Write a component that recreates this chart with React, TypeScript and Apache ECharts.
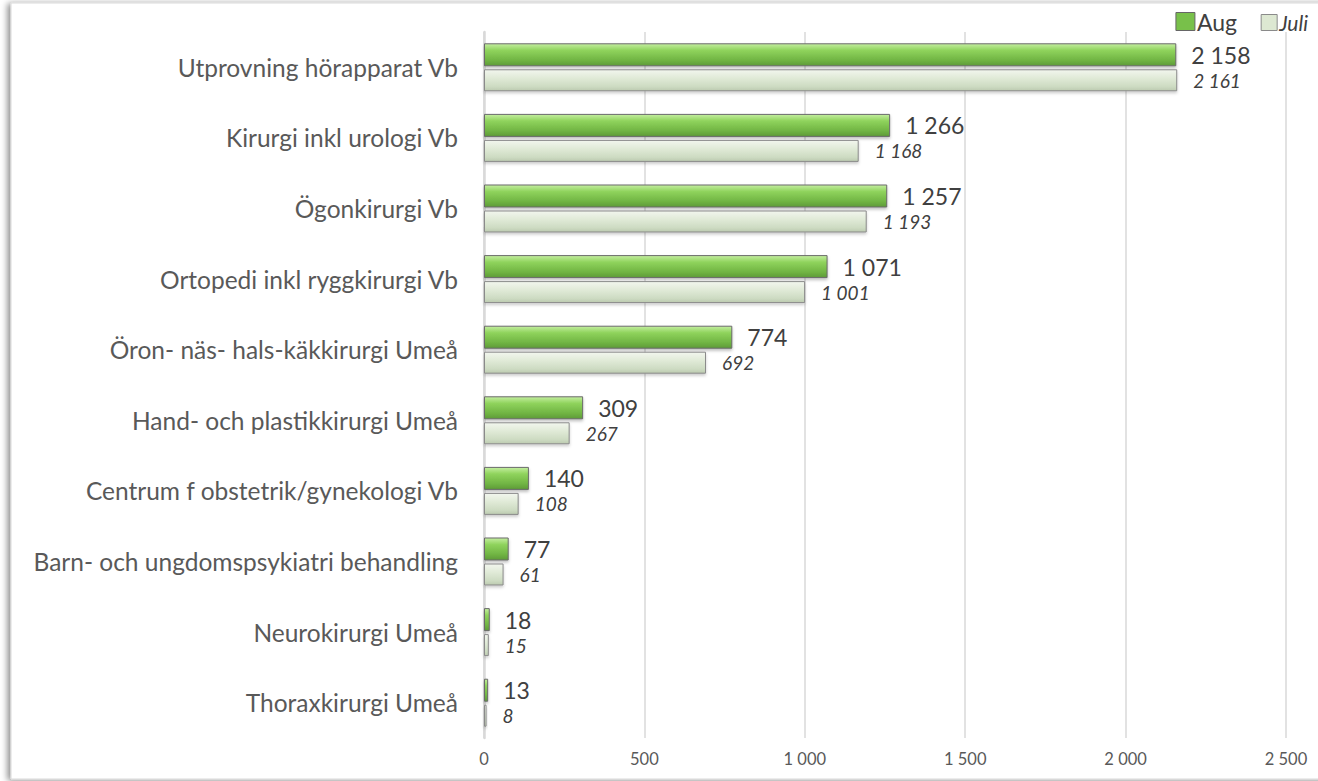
import React, { useEffect, useRef } from "react";
import * as echarts from "echarts";

const categories = [
  "Utprovning hörapparat Vb",
  "Kirurgi inkl urologi Vb",
  "Ögonkirurgi Vb",
  "Ortopedi inkl ryggkirurgi Vb",
  "Öron- näs- hals-käkkirurgi Umeå",
  "Hand- och plastikkirurgi Umeå",
  "Centrum f obstetrik/gynekologi Vb",
  "Barn- och ungdomspsykiatri behandling",
  "Neurokirurgi Umeå",
  "Thoraxkirurgi Umeå",
];
const augValues = [2158, 1266, 1257, 1071, 774, 309, 140, 77, 18, 13];
const juliValues = [2161, 1168, 1193, 1001, 692, 267, 108, 61, 15, 8];
const seriesNames = ["Aug", "Juli"];

const FONT = "Lato, 'Liberation Sans', sans-serif";
const fmt = (v: number) => String(v).replace(/\B(?=(\d{3})+(?!\d))/g, " ");

export default function App() {
  const ref = useRef<HTMLDivElement>(null);
  useEffect(() => {
    const chart = echarts.init(ref.current!, null, { renderer: "svg" });
    const augFill = new echarts.graphic.LinearGradient(0, 0, 0, 1, [
      { offset: 0, color: "#c4eea0" },
      { offset: 0.3, color: "#8fd35c" },
      { offset: 0.75, color: "#70b443" },
      { offset: 1, color: "#5e9a38" },
    ]);
    const juliFill = new echarts.graphic.LinearGradient(0, 0, 0, 1, [
      { offset: 0, color: "#f2f6ee" },
      { offset: 0.4, color: "#e0ead7" },
      { offset: 0.8, color: "#cddbc2" },
      { offset: 1, color: "#bccab0" },
    ]);
    chart.setOption({
      animation: false,
      backgroundColor: "#ffffff",
      graphic: [
        {
          type: "rect",
          shape: { x: 11, y: 3, width: 1320, height: 776 },
          style: {
            fill: "#ffffff",
            stroke: "#d9d9d9",
            lineWidth: 1,
            shadowBlur: 6,
            shadowOffsetX: -3,
            shadowOffsetY: 1,
            shadowColor: "rgba(0,0,0,0.45)",
          },
          z: -10,
          silent: true,
        },
      ],
      legend: [
        {
          right: 76,
          top: 5,
          itemWidth: 19,
          itemHeight: 18,
          icon: "rect",
          data: [
            {
              name: seriesNames[0],
              itemStyle: { color: "#78c04a", borderColor: "#666666", borderWidth: 1 },
              textStyle: { fontSize: 23, color: "#404040", fontFamily: FONT, padding: [0, 0, 0, -3] },
            },
          ],
        },
        {
          right: 5,
          top: 7,
          itemWidth: 16,
          itemHeight: 16,
          icon: "rect",
          data: [
            {
              name: seriesNames[1],
              itemStyle: { color: "#dde8d2", borderColor: "#8a8a8a", borderWidth: 1 },
              textStyle: { fontSize: 21, color: "#404040", fontStyle: "italic", fontFamily: FONT, padding: [0, 0, 0, -3] },
            },
          ],
        },
      ],
      grid: { left: 484, right: 32, top: 32, bottom: 43, containLabel: false },
      xAxis: {
        type: "value",
        min: 0,
        max: 2500,
        interval: 500,
        axisLine: { show: false },
        axisTick: { show: false },
        splitLine: { lineStyle: { color: "#d9d9d9", width: 1.5 } },
        axisLabel: {
          color: "#595959",
          fontSize: 16.5,
          fontFamily: FONT,
          margin: 12,
          formatter: (v: number) => fmt(v),
        },
      },
      yAxis: {
        type: "category",
        inverse: true,
        data: categories,
        axisLine: { show: true, lineStyle: { color: "#d9d9d9", width: 2.5 } },
        axisTick: { show: false },
        axisLabel: { color: "#595959", fontSize: 24.5, fontFamily: FONT, margin: 26 },
      },
      series: [
        {
          name: seriesNames[0],
          type: "bar",
          data: augValues,
          barWidth: 23,
          barGap: "13%",
          itemStyle: {
            color: augFill,
            borderColor: "#6b6b6b",
            borderWidth: 1,
            shadowBlur: 3,
            shadowOffsetY: 2,
            shadowColor: "rgba(0,0,0,0.25)",
          },
          label: {
            show: true,
            position: "right",
            distance: 15,
            color: "#404040",
            fontSize: 23,
            fontFamily: FONT,
            formatter: (p: any) => fmt(p.value),
          },
        },
        {
          name: seriesNames[1],
          type: "bar",
          data: juliValues,
          barWidth: 22,
          itemStyle: {
            color: juliFill,
            borderColor: "#8a8a8a",
            borderWidth: 1,
            shadowBlur: 3,
            shadowOffsetY: 2,
            shadowColor: "rgba(0,0,0,0.2)",
          },
          label: {
            show: true,
            position: "right",
            distance: 16,
            color: "#404040",
            fontSize: 19,
            fontStyle: "italic",
            fontFamily: FONT,
            formatter: (p: any) => fmt(p.value),
          },
        },
      ],
    });
    return () => chart.dispose();
  }, []);
  return (
    <div
      ref={ref}
      style={{ position: "absolute", left: 0, top: 0, width: 1318, height: 781 }}
    />
  );
}
